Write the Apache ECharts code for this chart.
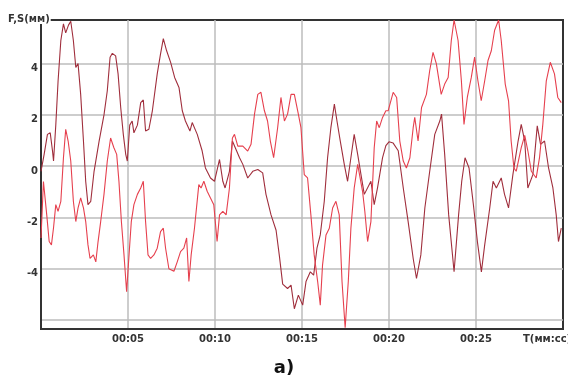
<!DOCTYPE html>
<html>
<head>
<meta charset="utf-8">
<script src="https://cdn.jsdelivr.net/npm/echarts@6/dist/echarts.min.js"></script>
<style>
  html, body { margin: 0; padding: 0; background: #fff; }
  #chart { width: 568px; height: 380px; }
</style>
</head>
<body>
<div id="chart"></div>
<script>
// time in seconds, values in mm
const darkT = [0, 0.18, 0.37, 0.53, 0.66, 0.72, 0.85, 0.98, 1.14, 1.29, 1.42, 1.58, 1.71, 1.86, 2.0, 2.13, 2.28, 2.44, 2.57, 2.7, 2.86, 3.05, 3.34, 3.62, 3.81, 3.97, 4.1, 4.29, 4.43, 4.58, 4.73, 4.87, 4.96, 5.1, 5.24, 5.34, 5.54, 5.73, 5.88, 6.01, 6.2, 6.4, 6.68, 6.87, 7.03, 7.22, 7.45, 7.68, 7.93, 8.12, 8.3, 8.56, 8.69, 8.98, 9.26, 9.45, 9.74, 9.97, 10.26, 10.45, 10.58, 10.83, 11.0, 11.41, 11.6, 11.88, 12.17, 12.46, 12.74, 12.93, 13.22, 13.51, 13.7, 13.89, 14.17, 14.37, 14.56, 14.79, 15.04, 15.23, 15.48, 15.67, 15.86, 16.05, 16.28, 16.47, 16.66, 16.86, 17.01, 17.2, 17.43, 17.62, 17.81, 18.0, 18.2, 18.39, 18.58, 18.96, 19.15, 19.34, 19.63, 19.82, 20.0, 20.24, 20.53, 20.82, 21.1, 21.39, 21.58, 21.83, 22.06, 22.34, 22.63, 22.92, 23.02, 23.2, 23.43, 23.74, 24.0, 24.18, 24.37, 24.6, 24.85, 25.08, 25.31, 25.5, 25.79, 25.98, 26.17, 26.45, 26.64, 26.87, 27.12, 27.42, 27.6, 27.8, 27.98, 28.27, 28.52, 28.71, 28.94, 29.17, 29.42, 29.61, 29.74, 29.9]
const darkV = [-0.2, 0.46, 1.24, 1.3, 0.6, 0.2, 1.6, 3.3, 4.9, 5.55, 5.2, 5.5, 5.65, 4.9, 3.85, 4.0, 2.8, 0.98, -0.6, -1.5, -1.37, -0.2, 0.98, 2.0, 2.94, 4.25, 4.4, 4.3, 3.6, 2.3, 1.24, 0.46, 0.2, 1.6, 1.76, 1.3, 1.6, 2.48, 2.58, 1.37, 1.44, 2.16, 3.6, 4.38, 4.97, 4.5, 4.05, 3.46, 3.07, 2.16, 1.76, 1.37, 1.7, 1.24, 0.6, -0.07, -0.46, -0.59, 0.26, -0.59, -0.85, -0.2, 0.98, 0.33, 0.07, -0.46, -0.2, -0.13, -0.26, -1.1, -1.9, -2.5, -3.5, -4.6, -4.77, -4.64, -5.56, -5.03, -5.42, -4.5, -4.12, -4.25, -3.2, -2.68, -1.37, 0.33, 1.5, 2.42, 1.76, 0.98, 0.07, -0.59, 0.33, 1.24, 0.46, -0.33, -1.1, -0.59, -1.5, -0.85, 0.33, 0.8, 0.95, 0.9, 0.6, -0.85, -2.16, -3.6, -4.38, -3.46, -1.63, -0.2, 1.24, 1.76, 2.03, 0.46, -1.9, -4.12, -1.9, -0.59, 0.33, -0.07, -1.5, -2.94, -4.12, -3.07, -1.63, -0.59, -0.85, -0.46, -1.1, -1.63, -0.33, 0.98, 1.63, 0.98, -0.85, -0.33, 1.57, 0.85, 0.98, -0.07, -0.85, -1.9, -2.94, -2.42]

const brightT = [0, 0.14, 0.33, 0.47, 0.6, 0.72, 0.85, 0.98, 1.14, 1.29, 1.42, 1.56, 1.71, 1.86, 2.0, 2.13, 2.28, 2.44, 2.57, 2.7, 2.82, 3.01, 3.15, 3.28, 3.43, 3.62, 3.81, 4.0, 4.19, 4.35, 4.48, 4.62, 4.77, 4.92, 5.06, 5.19, 5.34, 5.54, 5.73, 5.88, 6.01, 6.15, 6.3, 6.49, 6.68, 6.87, 7.03, 7.16, 7.35, 7.64, 7.83, 8.02, 8.21, 8.37, 8.5, 8.63, 8.82, 9.07, 9.2, 9.36, 9.55, 9.74, 9.93, 10.12, 10.26, 10.45, 10.64, 10.83, 11.0, 11.12, 11.31, 11.6, 11.88, 12.07, 12.27, 12.46, 12.64, 12.84, 13.02, 13.18, 13.37, 13.6, 13.79, 13.99, 14.17, 14.37, 14.56, 14.79, 14.94, 15.13, 15.32, 15.51, 15.7, 15.9, 16.05, 16.18, 16.38, 16.57, 16.76, 16.95, 17.14, 17.3, 17.48, 17.66, 17.81, 18.0, 18.2, 18.48, 18.61, 18.77, 18.96, 19.15, 19.29, 19.44, 19.63, 19.82, 19.95, 20.24, 20.44, 20.62, 20.82, 21.0, 21.2, 21.39, 21.48, 21.67, 21.87, 22.15, 22.34, 22.53, 22.72, 23.0, 23.2, 23.4, 23.58, 23.74, 23.97, 24.16, 24.31, 24.5, 24.73, 24.92, 25.11, 25.3, 25.5, 25.69, 25.88, 26.07, 26.3, 26.45, 26.68, 26.87, 27.02, 27.18, 27.31, 27.6, 27.8, 27.98, 28.18, 28.46, 28.65, 28.84, 29.04, 29.27, 29.51, 29.7, 29.9]
const brightV = [-2.8, -0.6, -1.9, -2.94, -3.07, -2.4, -1.5, -1.76, -1.37, 0.33, 1.44, 0.98, 0.2, -1.37, -2.16, -1.63, -1.24, -1.63, -2.16, -3.07, -3.6, -3.46, -3.73, -2.94, -2.16, -1.1, 0.2, 1.1, 0.72, 0.46, -0.6, -2.16, -3.46, -4.9, -3.46, -2.16, -1.5, -1.1, -0.85, -0.59, -2.16, -3.46, -3.6, -3.46, -3.2, -2.55, -2.42, -3.2, -4.0, -4.1, -3.73, -3.33, -3.2, -2.8, -4.5, -3.46, -2.42, -0.72, -0.85, -0.59, -0.98, -1.24, -1.5, -2.94, -1.9, -1.76, -1.9, -0.85, 1.1, 1.24, 0.78, 0.78, 0.59, 0.85, 2.03, 2.8, 2.88, 2.16, 1.76, 0.98, 0.33, 1.5, 2.68, 1.76, 2.03, 2.8, 2.8, 2.03, 1.5, -0.33, -0.46, -1.9, -3.46, -4.5, -5.42, -3.86, -2.68, -2.42, -1.63, -1.37, -1.9, -4.5, -6.3, -4.5, -2.42, -0.85, 0.07, -0.98, -1.76, -2.94, -2.16, 0.72, 1.76, 1.5, 1.9, 2.16, 2.16, 2.88, 2.68, 0.98, 0.2, -0.07, 0.33, 1.5, 1.9, 0.98, 2.29, 2.8, 3.73, 4.44, 4.0, 2.8, 3.2, 3.46, 4.9, 5.7, 4.9, 3.33, 1.63, 2.68, 3.46, 4.25, 3.33, 2.55, 3.33, 4.12, 4.5, 5.3, 5.7, 4.9, 3.2, 2.55, 0.98, -0.07, -0.2, 0.72, 1.2, 0.6, -0.2, -0.46, 0.33, 1.63, 3.33, 4.05, 3.6, 2.68, 2.48]

const xTicks = [5, 10, 15, 20, 25]
const yLabels = [-4, -2, 0, 2, 4]
const yGrid = [-6, -4, -2, 0, 2, 4]

function pairs(ts, vs) {
  return ts.map((t, i) => [t, vs[i]])
}
function mmss(s) {
  const m = Math.floor(s / 60), r = Math.round(s % 60)
  return String(m).padStart(2, '0') + ':' + String(r).padStart(2, '0')
}

const chart = echarts.init(document.getElementById('chart'))
const labelFont = { color: '#333', fontSize: 10, fontWeight: 'bold', fontFamily: 'DejaVu Sans' }

chart.setOption({
  animation: false,
  grid: {
    left: 41, right: 5, top: 20, bottom: 51,
    show: true, borderColor: '#333', borderWidth: 2
  },
  xAxis: {
    type: 'value',
    min: 0, max: 30,
    axisLine: { show: true, onZero: false, lineStyle: { color: '#333', width: 2 } },
    axisTick: { show: false, customValues: xTicks },
    splitLine: { show: true, lineStyle: { color: '#bdbdbd', width: 1.5 } },
    axisLabel: Object.assign({ margin: 5, customValues: xTicks, formatter: mmss }, labelFont)
  },
  yAxis: {
    type: 'value',
    min: -6.35, max: 5.7,
    axisLine: { show: true, onZero: false, lineStyle: { color: '#333', width: 2 } },
    axisTick: { show: false, customValues: yGrid },
    splitLine: { show: true, lineStyle: { color: '#bdbdbd', width: 1.5 } },
    axisLabel: Object.assign({ margin: 3, customValues: yLabels, verticalAlign: 'top' }, labelFont)
  },
  series: [
    {
      name: 'S', type: 'line', showSymbol: false,
      lineStyle: { color: '#a02e3c', width: 1.1 },
      data: pairs(darkT, darkV)
    },
    {
      name: 'F', type: 'line', showSymbol: false,
      lineStyle: { color: '#e6404e', width: 1.1 },
      data: pairs(brightT, brightV)
    }
  ],
  graphic: [
    {
      type: 'text', left: 7, top: 14, z: 100,
      style: { text: 'F,S(мм)', fill: '#333', font: 'bold 10px "DejaVu Sans"', backgroundColor: '#fff', padding: [0, 1, 0, 1] }
    },
    {
      type: 'text', left: 523, top: 334, z: 100,
      style: { text: 'T(мм:сс)', fill: '#333', font: 'bold 10px "DejaVu Sans"' }
    },
    {
      type: 'text', left: 'center', top: 359, z: 100,
      style: { text: 'a)', fill: '#111', font: 'bold 18px "DejaVu Sans"' }
    }
  ]
})
</script>
</body>
</html>
